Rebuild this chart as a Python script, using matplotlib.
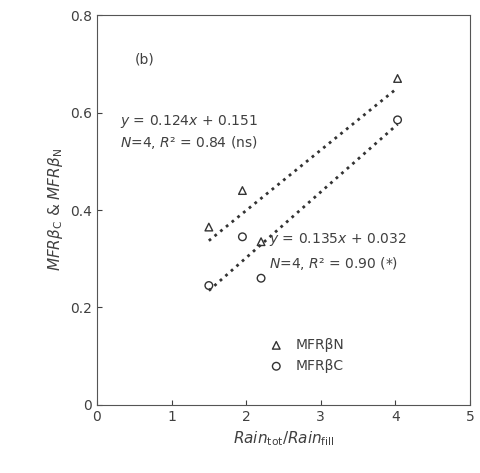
import numpy as np
import matplotlib
matplotlib.use('Agg')
import matplotlib.pyplot as plt

# --- data ---
ratio = [1.5, 1.95, 2.2, 4.03]
mfr_n = [0.365, 0.44, 0.335, 0.67]
mfr_c = [0.245, 0.345, 0.26, 0.585]
fit_n = (0.124, 0.151)
fit_c = (0.135, 0.032)

grey = '#404040'
plt.rcParams['font.family'] = ['DejaVu Sans']
plt.rcParams['font.size'] = 10

fig = plt.figure(figsize=(4.8, 4.73), dpi=100)
ax = fig.add_axes([0.202, 0.144, 0.777, 0.824])

ax.scatter(ratio, mfr_n, marker='^', facecolors='none', edgecolors='#333333', s=30, linewidths=1, label='MFRβN')
ax.scatter(ratio, mfr_c, marker='o', facecolors='none', edgecolors='#333333', s=30, linewidths=1, label='MFRβC')

xs = np.array([min(ratio), max(ratio)])
ax.plot(xs, fit_n[0] * xs + fit_n[1], ':', color='#333333', lw=2)
ax.plot(xs, fit_c[0] * xs + fit_c[1], ':', color='#333333', lw=2)

ax.text(0.5, 0.70, '(b)', color=grey)
ax.text(0.31, 0.574, r'$y$ = 0.124$x$ + 0.151', color=grey)
ax.text(0.31, 0.529, r'$N$=4, $R$² = 0.84 (ns)', color=grey)
ax.text(2.3, 0.332, r'$y$ = 0.135$x$ + 0.032', color=grey)
ax.text(2.3, 0.281, r'$N$=4, $R$² = 0.90 (*)', color=grey)

ax.legend(loc='lower left', bbox_to_anchor=(0.41, 0.05), frameon=False,
          labelcolor=grey, handletextpad=0.4)

ax.set_xlim(0, 5)
ax.set_ylim(0, 0.8)
ax.set_xticks(range(6))
ax.set_yticks([0, 0.2, 0.4, 0.6, 0.8])
ax.set_yticklabels(['0', '0.2', '0.4', '0.6', '0.8'])
ax.tick_params(direction='in', colors=grey, labelcolor=grey)
for s in ax.spines.values():
    s.set_color('#555555')

ax.set_xlabel(r'$Rain_{\rm tot}/Rain_{\rm fill}$', color=grey, fontsize=11)
ax.set_ylabel(r'$MFR\beta_{\rm C}$ & $MFR\beta_{\rm N}$', color=grey, fontsize=11)

fig.savefig('out.png', dpi=100)
